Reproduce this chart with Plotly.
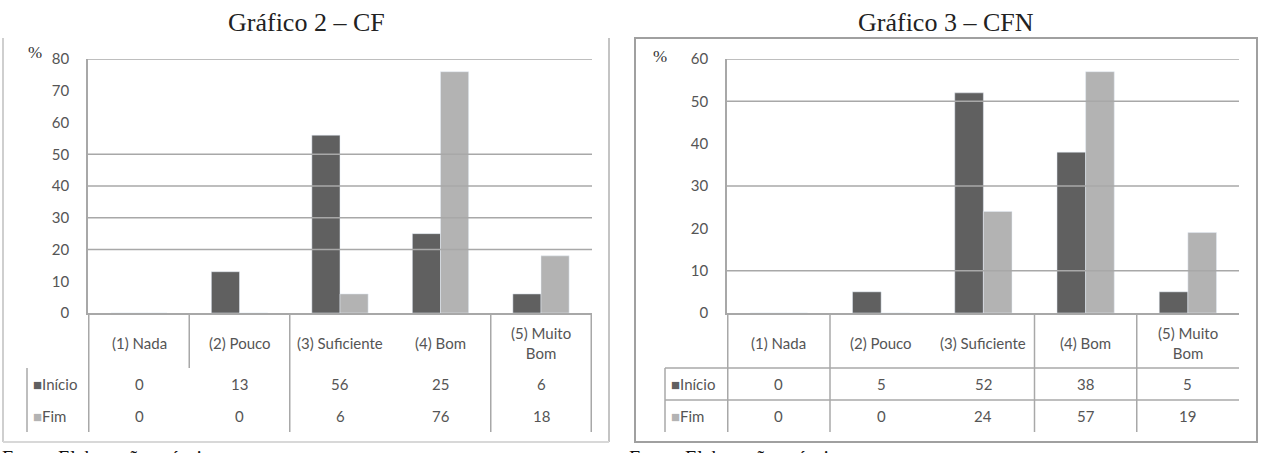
import plotly.graph_objects as go

W, H = 1261, 453

categories = ["(1) Nada", "(2) Pouco", "(3) Suficiente", "(4) Bom", "(5) Muito<br>Bom"]
series_names = ["Início", "Fim"]

cf_inicio = [0, 13, 56, 25, 6]
cf_fim = [0, 0, 6, 76, 18]
cfn_inicio = [0, 5, 52, 38, 5]
cfn_fim = [0, 0, 24, 57, 19]

cf_ticks = [0, 10, 20, 30, 40, 50, 60, 70, 80]
cfn_ticks = [0, 10, 20, 30, 40, 50, 60]
# gridlines that survive in the scanned original
cf_grid = [20, 30, 40, 50, 80]
cfn_grid = [10, 30, 50, 60]

dark = "#606060"
light = "#b3b3b3"
grid = "#a8a8a8"
txt = "#555555"
sans = "Lato"
serif = "Liberation Serif"


def px(x):
    return x / W


def py(y):
    return 1 - y / H


def note(x, y, text, font, xref="paper", xanchor="center", yanchor="middle"):
    return dict(x=x, y=y, xref=xref, yref="paper", text=text, showarrow=False,
                xanchor=xanchor, yanchor=yanchor, font=font)


fig = go.Figure()
panels = [
    dict(xa="x", ya="y", ini=cf_inicio, fim=cf_fim, ticks=cf_ticks, grid=cf_grid,
         x0=88, x1=592, rowx=27, title="Gráfico 2 – CF", tx=306, pctx=35, pcty=52),
    dict(xa="x2", ya="y2", ini=cfn_inicio, fim=cfn_fim, ticks=cfn_ticks, grid=cfn_grid,
         x0=727, x1=1239, rowx=665, title="Gráfico 3 – CFN", tx=946, pctx=660, pcty=57),
]

table_font = dict(family=sans, size=15, color=txt)
shapes = []
annotations = []
for i, p in enumerate(panels):
    fig.add_trace(go.Bar(x=categories, y=p["ini"], name=series_names[0], marker_color=dark,
                         xaxis=p["xa"], yaxis=p["ya"], showlegend=False))
    fig.add_trace(go.Bar(x=categories, y=p["fim"], name=series_names[1], marker_color=light,
                         xaxis=p["xa"], yaxis=p["ya"], showlegend=False))
    for g in p["grid"]:
        shapes.append(dict(type="line", xref=p["xa"] + " domain", yref=p["ya"],
                           x0=0, x1=1, y0=g, y1=g, line=dict(color=grid, width=1.5)))
    # data table under the plot
    for j, cat in enumerate(categories):
        annotations.append(note(cat, py(343), cat, table_font, xref=p["xa"]))
        annotations.append(note(cat, py(384), str(p["ini"][j]), table_font, xref=p["xa"]))
        annotations.append(note(cat, py(416), str(p["fim"][j]), table_font, xref=p["xa"]))
    for row_y, name, col in [(384, series_names[0], dark), (416, series_names[1], light)]:
        annotations.append(note(px(p["rowx"] + 4), py(row_y),
                                f"<span style='color:{col}'>■</span>{name}",
                                table_font, xanchor="left"))
    annotations.append(note(px(p["tx"]), py(22), p["title"],
                            dict(family=serif, size=26, color="#222")))
    annotations.append(note(px(p["pctx"]), py(p["pcty"]), "%",
                            dict(family=serif, size=17, color="#333")))

    if i == 0:
        vlines = [(-0.5, 313, 432), (0.5, 313, 368), (1.5, 313, 432), (3.5, 313, 432), (4.5, 313, 432)]
        hlines = []
    else:
        vlines = [(-0.5, 313, 432), (0.5, 313, 432), (2.5, 313, 432), (3.5, 313, 432)]
        hlines = [368, 400]
    for xv, ya, yb in vlines:
        shapes.append(dict(type="line", xref=p["xa"], yref="paper", x0=xv, x1=xv,
                           y0=py(ya), y1=py(yb), line=dict(color=grid, width=1.5)))
    shapes.append(dict(type="line", xref="paper", yref="paper", x0=px(p["rowx"]), x1=px(p["rowx"]),
                       y0=py(368), y1=py(432), line=dict(color=grid, width=1.5)))
    for hy in hlines:
        shapes.append(dict(type="line", xref="paper", yref="paper", x0=px(p["rowx"]), x1=px(p["x1"]),
                           y0=py(hy), y1=py(hy), line=dict(color=grid, width=1.5)))

# panel frames
shapes += [
    dict(type="line", xref="paper", yref="paper", x0=px(3), x1=px(3), y0=py(38), y1=py(442),
         line=dict(color="#cfcfcf", width=2)),
    dict(type="line", xref="paper", yref="paper", x0=px(609), x1=px(609), y0=py(38), y1=py(442),
         line=dict(color="#c4c4c4", width=2)),
    dict(type="line", xref="paper", yref="paper", x0=px(3), x1=px(609), y0=py(442), y1=py(442),
         line=dict(color="#d8d8d8", width=2)),
    dict(type="rect", xref="paper", yref="paper", x0=px(635), x1=px(1257), y0=py(442), y1=py(38),
         line=dict(color="#a0a0a0", width=2)),
]

for xfoot in [0, 627]:
    annotations.append(note(px(xfoot), py(445), "Fonte: Elaboração própria",
                            dict(family=serif, size=20, color="#111"),
                            xanchor="left", yanchor="top"))

axis_y = dict(tickmode="array", showgrid=False, zeroline=False, showline=True, linecolor=grid,
              linewidth=1.5, ticks="", ticklabelstandoff=14, automargin=False,
              tickfont=dict(family=sans, size=15, color=txt))
axis_x = dict(showticklabels=False, showgrid=False, zeroline=False, showline=True,
              linecolor=grid, linewidth=1.5, ticks="", automargin=False)

fig.update_layout(
    width=W, height=H,
    margin=dict(l=0, r=0, t=0, b=0, pad=0),
    paper_bgcolor="white", plot_bgcolor="white",
    barmode="group", bargap=0.44, bargroupgap=0,
    xaxis=dict(axis_x, domain=[px(88), px(592)], anchor="y"),
    yaxis=dict(axis_y, domain=[py(313), py(59)], range=[0, 80], tickvals=cf_ticks, anchor="x"),
    xaxis2=dict(axis_x, domain=[px(727), px(1239)], anchor="y2"),
    yaxis2=dict(axis_y, domain=[py(313), py(59)], range=[0, 60], tickvals=cfn_ticks, anchor="x2"),
    shapes=shapes,
    annotations=annotations,
)

fig.write_html(
    "out.html",
    config={"displayModeBar": False},
    post_script="document.body.style.margin='0';document.body.style.overflow='hidden';",
)
